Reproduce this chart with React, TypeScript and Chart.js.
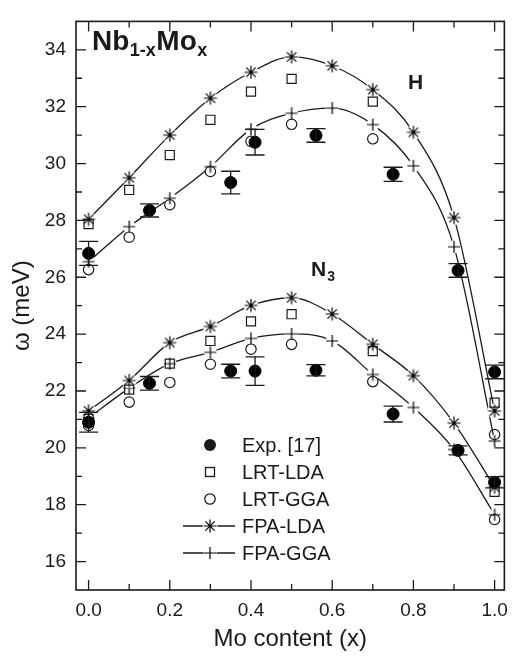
import React, { useEffect, useRef } from "react";
import { Chart, registerables } from "chart.js";

Chart.register(...registerables);

// ---------- data ----------
const fpaX = [0, 0.1, 0.2, 0.3, 0.4, 0.5, 0.6, 0.7, 0.8, 0.9, 1.0];
const fpaLdaH = [28.04, 29.5, 31.0, 32.3, 33.21, 33.75, 33.44, 32.6, 31.1, 28.1, 21.3];
const fpaGgaH = [26.55, 27.78, 28.78, 29.89, 31.21, 31.77, 31.95, 31.37, 29.92, 27.07, 20.24];
const fpaLdaN = [21.3, 22.37, 23.7, 24.27, 25.01, 25.28, 24.71, 23.64, 22.54, 20.87, 18.62];
const fpaGgaN = [21.05, 22.1, 22.96, 23.36, 23.85, 24.01, 23.76, 22.58, 21.42, 19.94, 17.65];

const lrtX = [0, 0.1, 0.2, 0.3, 0.4, 0.5, 0.7, 1.0];
const lrtLdaH = [27.87, 29.07, 30.3, 31.54, 32.53, 32.98, 32.18, 21.59];
const lrtGgaH = [26.27, 27.41, 28.55, 29.72, 30.78, 31.38, 30.87, 20.47];
const lrtLdaN = [21.02, 22.05, 22.96, 23.76, 24.45, 24.7, 23.4, 18.45];
const lrtGgaN = [20.79, 21.61, 22.3, 22.94, 23.47, 23.64, 22.33, 17.48];

const expX = [0, 0.15, 0.35, 0.41, 0.56, 0.75, 0.91, 1.0];
const expH = [26.84, 28.35, 29.33, 30.75, 30.99, 29.62, 26.24, 22.67];
const expHErr = [0.42, 0.23, 0.4, 0.45, 0.24, 0.25, 0.24, 0.24];
const expN = [20.9, 22.27, 22.7, 22.7, 22.73, 21.19, 19.91, 18.79];
const expNErr = [0.35, 0.24, 0.24, 0.5, 0.2, 0.28, 0.16, 0.2];

const xTickValues = [0, 0.2, 0.4, 0.6, 0.8, 1.0];
const xMinorValues = [0.1, 0.3, 0.5, 0.7, 0.9];
const yTickValues = [16, 18, 20, 22, 24, 26, 28, 30, 32, 34];
const yMinorValues = [17, 19, 21, 23, 25, 27, 29, 31, 33];

const legendLabels = ["Exp. [17]", "LRT-LDA", "LRT-GGA", "FPA-LDA", "FPA-GGA"];

// ---------- styles ----------
const FONT = '"Liberation Sans", Arial, Helvetica, sans-serif';
const INK = "#1a1a1a";

const pts = (xs: number[], ys: number[]) => xs.map((x, i) => ({ x, y: ys[i] }));

function makeMarker(kind: "star" | "plus", r: number, halo: number) {
  const c = document.createElement("canvas");
  const s = 18;
  c.width = s;
  c.height = s;
  const g = c.getContext("2d")!;
  const m = s / 2;
  g.fillStyle = "#fff";
  g.beginPath();
  g.arc(m, m, halo, 0, Math.PI * 2);
  g.fill();
  g.strokeStyle = "#000";
  g.lineWidth = 1.2;
  g.lineCap = "butt";
  g.beginPath();
  g.moveTo(m - r, m);
  g.lineTo(m + r, m);
  g.moveTo(m, m - r);
  g.lineTo(m, m + r);
  if (kind === "star") {
    const d = r * 0.72;
    g.moveTo(m - d, m - d);
    g.lineTo(m + d, m + d);
    g.moveTo(m - d, m + d);
    g.lineTo(m + d, m - d);
  }
  g.stroke();
  return c;
}

export default function App() {
  const ref = useRef<HTMLCanvasElement | null>(null);

  useEffect(() => {
    if (!ref.current) return;
    const star = makeMarker("star", 6.5, 7.5);
    const plus = makeMarker("plus", 6, 6.5);
    const expErr = [...expHErr, ...expNErr];

    const lineDs = (data: any, marker: HTMLCanvasElement) => ({
      type: "line",
      data,
      showLine: true,
      borderColor: INK,
      borderWidth: 1.3,
      cubicInterpolationMode: "monotone",
      pointStyle: marker,
      pointRadius: 7,
      fill: false,
    });

    const framePlugin = {
      id: "frame",
      afterDatasetsDraw(chart: any) {
        const { ctx, chartArea: a, scales } = chart;
        const xs = scales.x;
        const ys = scales.y;
        ctx.save();
        // error bars for experimental data
        const meta = chart.getDatasetMeta(0);
        const allExp = [...expH, ...expN];
        ctx.strokeStyle = INK;
        ctx.lineWidth = 1.3;
        meta.data.forEach((el: any, i: number) => {
          const v = allExp[i];
          const e = expErr[i];
          const yt = ys.getPixelForValue(v + e);
          const yb = ys.getPixelForValue(v - e);
          ctx.beginPath();
          ctx.moveTo(el.x, yt);
          ctx.lineTo(el.x, yb);
          ctx.moveTo(el.x - 9.5, yt);
          ctx.lineTo(el.x + 9.5, yt);
          ctx.moveTo(el.x - 9.5, yb);
          ctx.lineTo(el.x + 9.5, yb);
          ctx.stroke();
        });
        // frame
        ctx.lineWidth = 1.6;
        ctx.strokeRect(a.left, a.top, a.right - a.left, a.bottom - a.top);
        // ticks
        ctx.lineWidth = 1.3;
        ctx.beginPath();
        const xt = (vals: number[], len: number) =>
          vals.forEach((v) => {
            const p = xs.getPixelForValue(v);
            ctx.moveTo(p, a.bottom);
            ctx.lineTo(p, a.bottom - len);
            ctx.moveTo(p, a.top);
            ctx.lineTo(p, a.top + len);
          });
        const yt = (vals: number[], len: number) =>
          vals.forEach((v) => {
            const p = ys.getPixelForValue(v);
            ctx.moveTo(a.left, p);
            ctx.lineTo(a.left + len, p);
            ctx.moveTo(a.right, p);
            ctx.lineTo(a.right - len, p);
          });
        xt(xTickValues, 10);
        xt(xMinorValues, 6);
        yt(yTickValues, 10);
        yt(yMinorValues, 6);
        ctx.stroke();
        ctx.restore();
      },
      afterDraw(chart: any) {
        const { ctx } = chart;
        ctx.save();
        ctx.fillStyle = INK;
        ctx.strokeStyle = INK;
        // legend
        const rows = [445, 472, 499, 526, 553];
        const sx = 210;
        ctx.font = `20px ${FONT}`;
        ctx.textBaseline = "middle";
        ctx.textAlign = "left";
        rows.forEach((y, i) => {
          ctx.lineWidth = 1.3;
          if (i === 0) {
            ctx.beginPath();
            ctx.arc(sx, y, 6, 0, Math.PI * 2);
            ctx.fill();
          } else if (i === 1) {
            ctx.strokeRect(sx - 4.5, y - 4.5, 9, 9);
          } else if (i === 2) {
            ctx.beginPath();
            ctx.arc(sx, y, 5.2, 0, Math.PI * 2);
            ctx.stroke();
          } else {
            ctx.beginPath();
            ctx.moveTo(sx - 27, y);
            ctx.lineTo(sx + 25, y);
            ctx.stroke();
            const m = i === 3 ? star : plus;
            ctx.drawImage(m, Math.round(sx - m.width / 2), Math.round(y - m.height / 2));
          }
          ctx.fillText(legendLabels[i], 242, y + 1);
        });
        // title Nb1-xMox
        ctx.textBaseline = "alphabetic";
        let x = 92;
        const big = `bold 28px ${FONT}`;
        const small = `bold 18px ${FONT}`;
        const parts: [string, string, number][] = [
          ["Nb", big, 50],
          ["1-x", small, 56],
          ["Mo", big, 50],
          ["x", small, 56],
        ];
        parts.forEach(([t, f, by]) => {
          ctx.font = f;
          ctx.fillText(t, x, by);
          x += ctx.measureText(t).width + 0.5;
        });
        // branch labels
        ctx.font = `bold 21px ${FONT}`;
        ctx.fillText("H", 408, 89);
        ctx.fillText("N", 311, 276);
        const nw = ctx.measureText("N").width;
        ctx.font = `bold 14px ${FONT}`;
        ctx.fillText("3", 311 + nw + 1, 281);
        ctx.restore();
      },
    };

    const chart = new Chart(ref.current, {
      type: "scatter",
      data: {
        datasets: [
          {
            label: legendLabels[0],
            data: [...pts(expX, expH), ...pts(expX, expN)],
            pointStyle: "circle",
            pointRadius: 6,
            backgroundColor: "#000",
            borderColor: "#000",
            borderWidth: 1,
          },
          {
            label: legendLabels[1],
            data: [...pts(lrtX, lrtLdaH), ...pts(lrtX, lrtLdaN)],
            pointStyle: "rect",
            pointRadius: 6.4,
            backgroundColor: "rgba(0,0,0,0)",
            borderColor: INK,
            borderWidth: 1.2,
          },
          {
            label: legendLabels[2],
            data: [...pts(lrtX, lrtGgaH), ...pts(lrtX, lrtGgaN)],
            pointStyle: "circle",
            pointRadius: 5.2,
            backgroundColor: "rgba(0,0,0,0)",
            borderColor: INK,
            borderWidth: 1.2,
          },
          { label: legendLabels[3], ...lineDs(pts(fpaX, fpaLdaH), star) },
          { label: legendLabels[3] + " N3", ...lineDs(pts(fpaX, fpaLdaN), star) },
          { label: legendLabels[4], ...lineDs(pts(fpaX, fpaGgaH), plus) },
          { label: legendLabels[4] + " N3", ...lineDs(pts(fpaX, fpaGgaN), plus) },
        ] as any,
      },
      options: {
        animation: false,
        responsive: false,
        layout: { padding: { top: 5, right: 4, left: 0, bottom: 0 } },
        plugins: { legend: { display: false }, tooltip: { enabled: false } },
        scales: {
          x: {
            type: "linear",
            min: -0.031,
            max: 1.024,
            afterBuildTicks: (s: any) => {
              s.ticks = xTickValues.map((v) => ({ value: v }));
            },
            afterFit: (s: any) => {
              s.height = 66;
            },
            ticks: {
              callback: (v: any) => Number(v).toFixed(1),
              font: { family: FONT, size: 19 },
              color: INK,
              padding: 9,
              maxRotation: 0,
              autoSkip: false,
            },
            grid: { display: false, drawTicks: false },
            border: { display: false },
            title: {
              display: true,
              text: "Mo content (x)",
              font: { family: FONT, size: 24 },
              color: INK,
              padding: { top: 0, bottom: 2 },
            },
          },
          y: {
            type: "linear",
            min: 15,
            max: 35,
            afterBuildTicks: (s: any) => {
              s.ticks = yTickValues.map((v) => ({ value: v }));
            },
            afterFit: (s: any) => {
              s.width = 76;
            },
            ticks: {
              callback: (v: any) => String(v),
              font: { family: FONT, size: 19 },
              color: INK,
              padding: 10,
              autoSkip: false,
            },
            grid: { display: false, drawTicks: false },
            border: { display: false },
            title: {
              display: true,
              text: "ω (meV)",
              font: { family: FONT, size: 24 },
              color: INK,
              padding: { top: 8, bottom: 0 },
            },
          },
        },
      } as any,
      plugins: [framePlugin],
    });
    return () => chart.destroy();
  }, []);

  return (
    <div style={{ position: "fixed", left: 0, top: 0, width: 517, height: 656, background: "#fff" }}>
      <canvas ref={ref} width={517} height={656} style={{ display: "block" }} />
    </div>
  );
}
